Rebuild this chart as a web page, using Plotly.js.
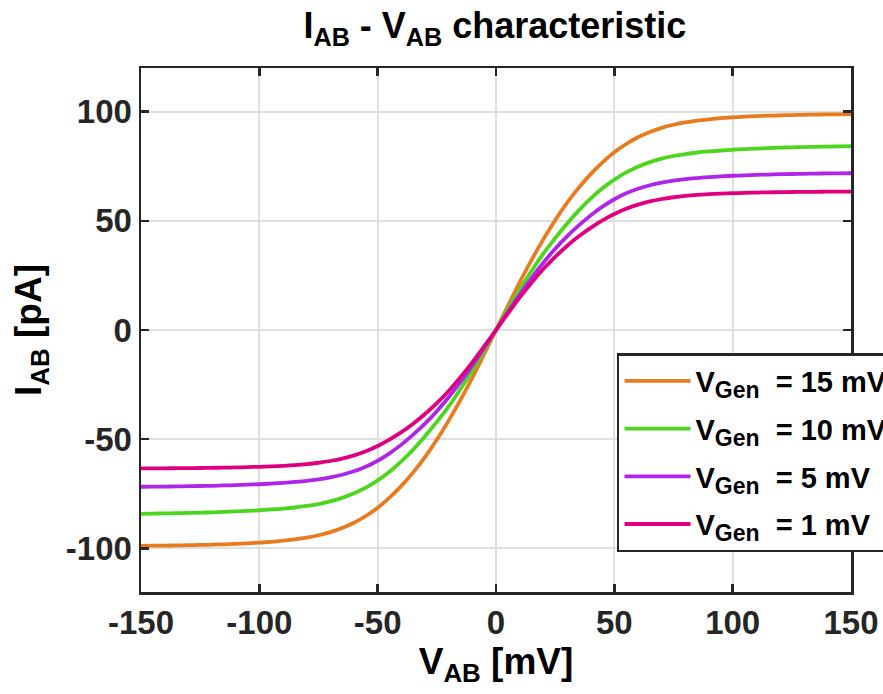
<!DOCTYPE html>
<html>
<head>
<meta charset="utf-8">
<script src="https://cdn.plot.ly/plotly-3.0.1.min.js"></script>
<style>html,body{margin:0;padding:0;background:#fff;}#chart{width:883px;height:694px;}</style>
</head>
<body>
<div id="chart"></div>
<script>
// V_AB [mV]
const vab = [-150,-145,-140,-135,-130,-125,-120,-115,-110,-105,-100,-95,-90,-85,-80,-75,-70,-65,-60,-55,-50,-45,-40,-35,-30,-25,-20,-15,-10,-5,
             0,5,10,15,20,25,30,35,40,45,50,55,60,65,70,75,80,85,90,95,100,105,110,115,120,125,130,135,140,145,150];
// I_AB [pA] for each V_Gen
const iGen15 = [-98.85,-98.8,-98.75,-98.65,-98.55,-98.45,-98.3,-98.15,-97.95,-97.7,-97.4,-97.0,-96.5,-95.9,-95.1,-94.0,-92.6,-90.7,-88.3,-85.2,-81.4,-76.8,-71.4,-65.2,-58.2,-50.3,-41.5,-32.0,-21.8,-11.0,
                0,11.0,21.8,32.0,41.5,50.3,58.2,65.2,71.4,76.8,81.4,85.2,88.3,90.7,92.6,94.0,95.1,95.9,96.5,97.0,97.4,97.7,97.95,98.15,98.3,98.45,98.55,98.65,98.75,98.8,98.85];
const iGen10 = [-84.2,-84.1,-84.0,-83.9,-83.8,-83.65,-83.5,-83.3,-83.1,-82.85,-82.55,-82.2,-81.8,-81.3,-80.6,-79.7,-78.5,-76.9,-74.8,-72.2,-68.9,-64.9,-60.2,-54.8,-48.7,-42.1,-35.0,-27.0,-18.4,-9.3,
                0,9.3,18.4,27.0,35.0,42.1,48.7,54.8,60.2,64.9,68.9,72.2,74.8,76.9,78.5,79.7,80.6,81.3,81.8,82.2,82.55,82.85,83.1,83.3,83.5,83.65,83.8,83.9,84.0,84.1,84.2];
const iGen5 = [-71.8,-71.75,-71.7,-71.65,-71.55,-71.45,-71.35,-71.2,-71.05,-70.85,-70.65,-70.35,-70.0,-69.6,-69.1,-68.4,-67.5,-66.3,-64.7,-62.6,-59.9,-56.5,-52.5,-47.9,-42.9,-37.2,-30.8,-23.8,-16.2,-8.2,
               0,8.2,16.2,23.8,30.8,37.2,42.9,47.9,52.5,56.5,59.9,62.6,64.7,66.3,67.5,68.4,69.1,69.6,70.0,70.35,70.65,70.85,71.05,71.2,71.35,71.45,71.55,71.65,71.7,71.75,71.8];
const iGen1 = [-63.4,-63.4,-63.35,-63.3,-63.25,-63.2,-63.15,-63.05,-62.95,-62.8,-62.65,-62.45,-62.2,-61.85,-61.4,-60.8,-60.0,-58.9,-57.4,-55.5,-53.1,-50.2,-46.8,-42.9,-38.5,-33.5,-27.9,-21.6,-14.8,-7.5,
               0,7.5,14.8,21.6,27.9,33.5,38.5,42.9,46.8,50.2,53.1,55.5,57.4,58.9,60.0,60.8,61.4,61.85,62.2,62.45,62.65,62.8,62.95,63.05,63.15,63.2,63.25,63.3,63.35,63.4,63.4];
const genValues = ['15','10','5','1'];
const seriesColors = ['#E87B1E','#4CD71E','#B026E8','#E0007F'];
const xTicks = [-150,-100,-50,0,50,100,150];
const yTicks = [-100,-50,0,50,100];

const FONT = 'Liberation Sans, Arial, Helvetica, sans-serif';
const ys = [iGen15, iGen10, iGen5, iGen1];
const traces = ys.map((y, i) => ({
  x: vab, y: y, type: 'scatter', mode: 'lines',
  name: 'V<sub><span style="font-size:23px">Gen</span></sub>\u00a0\u00a0= ' + genValues[i] + ' mV',
  legendgroup: 'g' + i,
  line: {color: seriesColors[i], width: 3.8, shape: 'spline', smoothing: 1}
}));

const axisCommon = {
  showline: true, linecolor: '#262626', linewidth: 2.5, mirror: 'ticks',
  ticks: 'inside', ticklen: 8, tickwidth: 2.5, tickcolor: '#262626',
  showgrid: true, gridcolor: '#dfdfdf', gridwidth: 2, zeroline: false,
  tickfont: {family: FONT, size: 33, color: '#262626', weight: 'bold'},
  automargin: false
};

const layout = {
  width: 883, height: 694,
  margin: {l: 141, r: 32, t: 68, b: 102, autoexpand: false},
  paper_bgcolor: '#ffffff', plot_bgcolor: '#ffffff',
  font: {family: FONT, color: '#000'},
  title: {text: 'I<sub>AB</sub> - V<sub>AB</sub> characteristic', x: 0.5605, xanchor: 'center', xref: 'container',
          y: 0.981, yanchor: 'top', yref: 'container',
          font: {family: FONT, size: 36, color: '#000', weight: 'bold'}},
  xaxis: Object.assign({}, axisCommon, {
    range: [-150, 150], tickvals: xTicks, ticktext: xTicks.map(String),
    title: {text: 'V<sub>AB</sub> [mV]', standoff: 0, font: {family: FONT, size: 37, color: '#000', weight: 'bold'}}
  }),
  yaxis: Object.assign({}, axisCommon, {
    range: [-120, 120], tickvals: yTicks, ticktext: yTicks.map(String),
    title: {text: 'I<sub>AB</sub> [pA]', standoff: 13, font: {family: FONT, size: 37, color: '#000', weight: 'bold'}}
  }),
  showlegend: true,
  legend: {
    x: 0.6704, y: 0.456, xanchor: 'left', yanchor: 'top', xref: 'paper', yref: 'paper',
    bgcolor: '#ffffff', bordercolor: '#262626', borderwidth: 2.5,
    font: {family: FONT, size: 29, color: '#000', weight: 'bold'},
    itemwidth: 66, tracegroupgap: 7, traceorder: 'grouped'
  }
};

Plotly.newPlot('chart', traces, layout, {displayModeBar: false, staticPlot: true});
</script>
</body>
</html>
